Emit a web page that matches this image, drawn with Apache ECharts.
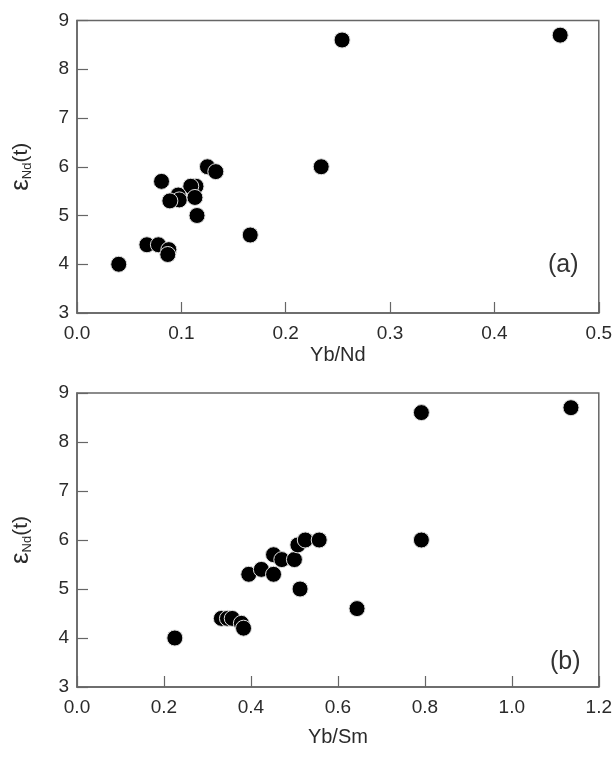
<!DOCTYPE html>
<html>
<head>
<meta charset="utf-8">
<script src="https://cdn.jsdelivr.net/npm/echarts@6/dist/echarts.min.js"></script>
<style>html,body{margin:0;padding:0;background:#fff}#c{width:615px;height:759px}</style>
</head>
<body>
<div id="c"></div>
<script>
// Panel (a): Yb/Nd vs eNd(t)
const ybNd = [0.254, 0.463, 0.234, 0.125, 0.133, 0.081, 0.114, 0.109, 0.097, 0.098, 0.089, 0.113, 0.115, 0.166, 0.067, 0.078, 0.088, 0.087, 0.040];
const eNdA = [8.6, 8.7, 6.0, 6.0, 5.9, 5.7, 5.6, 5.6, 5.42, 5.32, 5.3, 5.37, 5.0, 4.6, 4.4, 4.4, 4.3, 4.2, 4.0];
// Panel (b): Yb/Sm vs eNd(t)
const ybSm = [0.225, 0.332, 0.346, 0.357, 0.378, 0.383, 0.395, 0.424, 0.452, 0.452, 0.471, 0.500, 0.513, 0.508, 0.525, 0.557, 0.644, 0.792, 0.792, 1.136];
const eNdB = [4.0, 4.4, 4.4, 4.4, 4.3, 4.2, 5.3, 5.4, 5.3, 5.7, 5.6, 5.6, 5.0, 5.9, 6.0, 6.0, 4.6, 8.6, 6.0, 8.7];
const xTicksA = [0.0, 0.1, 0.2, 0.3, 0.4, 0.5];
const xTicksB = [0.0, 0.2, 0.4, 0.6, 0.8, 1.0, 1.2];
const yTicks = [3, 4, 5, 6, 7, 8, 9];
const panelLabels = ['(a)', '(b)'];
const xNames = ['Yb/Nd', 'Yb/Sm'];

const FONT = "'Liberation Sans', Arial, sans-serif";
const AX = '#666';
const TXT = '#2a2a2a';
const chart = echarts.init(document.getElementById('c'));

function xAxis(idx, ticks, name, gap) {
  return {
    type: 'value', gridIndex: idx,
    min: ticks[0], max: ticks[ticks.length - 1], interval: ticks[1] - ticks[0],
    name: name, nameLocation: 'middle', nameGap: gap,
    nameTextStyle: { fontFamily: FONT, fontSize: 20, color: TXT },
    axisLine: { show: true, lineStyle: { color: AX, width: 1.5 } },
    axisTick: { show: true, inside: true, length: 11, lineStyle: { color: AX, width: 1.2 } },
    axisLabel: { fontFamily: FONT, fontSize: 19, color: TXT, margin: 11, formatter: v => v.toFixed(1) },
    splitLine: { show: false }
  };
}
function yAxis(idx) {
  return {
    type: 'value', gridIndex: idx,
    min: yTicks[0], max: yTicks[yTicks.length - 1], interval: 1,
    name: '{e|ε}{s|Nd}{p|(t)}', nameLocation: 'middle', nameGap: 43, nameRotate: 90,
    nameTextStyle: {
      fontFamily: FONT, color: TXT,
      rich: {
        e: { fontFamily: FONT, fontSize: 26, color: TXT },
        s: { fontFamily: FONT, fontSize: 13, color: TXT, verticalAlign: 'bottom', padding: [10, 0, 0, 0] },
        p: { fontFamily: FONT, fontSize: 21, color: TXT }
      }
    },
    axisLine: { show: true, lineStyle: { color: AX, width: 1.5 } },
    axisTick: { show: true, inside: true, length: 11, lineStyle: { color: AX, width: 1.2 } },
    axisLabel: { fontFamily: FONT, fontSize: 19, color: TXT, margin: 8 },
    splitLine: { show: false }
  };
}
function series(idx, xs, ys) {
  return {
    type: 'scatter', xAxisIndex: idx, yAxisIndex: idx,
    symbol: 'circle', symbolSize: 16,
    itemStyle: { color: '#000', borderColor: '#e0e0e0', borderWidth: 1, opacity: 1 },
    data: xs.map((x, i) => [x, ys[i]]),
    emphasis: { disabled: true }
  };
}

chart.setOption({
  animation: false,
  backgroundColor: '#fff',
  title: [
    { text: panelLabels[0], left: 543, top: 248, textStyle: { fontFamily: FONT, fontSize: 25, fontWeight: 'normal', color: '#333' } },
    { text: panelLabels[1], left: 545, top: 645, textStyle: { fontFamily: FONT, fontSize: 25, fontWeight: 'normal', color: '#333' } }
  ],
  grid: [
    { left: 75, top: 20.5, width: 527, height: 292.5, show: true, borderColor: AX, borderWidth: 1.5, backgroundColor: 'transparent' },
    { left: 75, top: 393, width: 526, height: 294, show: true, borderColor: AX, borderWidth: 1.5, backgroundColor: 'transparent' }
  ],
  xAxis: [xAxis(0, xTicksA, xNames[0], 32), xAxis(1, xTicksB, xNames[1], 40)],
  yAxis: [yAxis(0), yAxis(1)],
  series: [series(0, ybNd, eNdA), series(1, ybSm, eNdB)]
});
</script>
</body>
</html>
